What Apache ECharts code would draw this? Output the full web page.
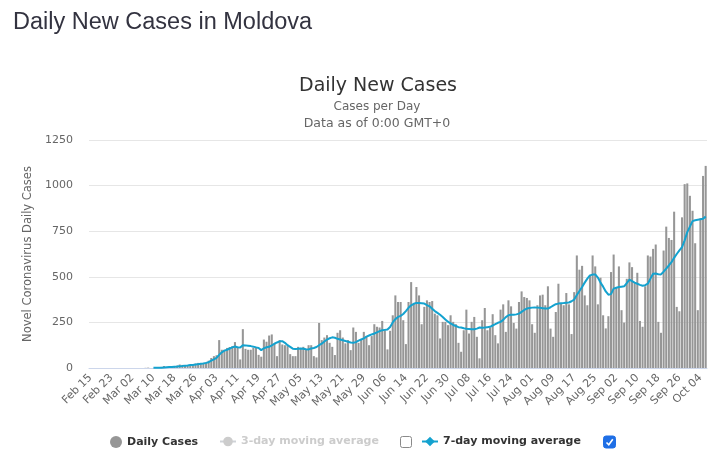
<!DOCTYPE html>
<html><head><meta charset="utf-8">
<script src="https://cdn.jsdelivr.net/npm/echarts@6/dist/echarts.min.js"></script>
<style>html,body{margin:0;padding:0;background:#fff}#c{width:715px;height:462px}</style>
</head><body><div id="c"></div>
<script>
// Dates: Feb 15, 2020 onward (one category per day)
const startYear = 2020, startMonth = 1, startDay = 15;
const dayCount = 235;
const monthNames = ['Jan','Feb','Mar','Apr','May','Jun','Jul','Aug','Sep','Oct','Nov','Dec'];

// Daily new cases
const dailyCases = [
  0,0,0,0,0,0,0,0,0,0, 0,0,0,0,0,0,0,0,0,0, 0,
  1,2,0,0,3,0,6,11,2,7,6,7,13,19,17,14,15,15,16,24,28,
  25,28,30,40,55,65,70,153,100,100,110,115,120,142,110,47,213,105,100,100,110,116,72,62,
  156,144,178,184,135,65,153,129,125,120,76,65,65,116,107,116,102,125,125,65,58,
  247,153,167,180,138,116,71,193,207,167,135,153,98,222,198,138,156,198,175,125,175,
  240,226,222,258,207,102,204,289,398,362,362,262,131,362,471,353,444,398,240,335,
  371,362,367,298,289,162,253,253,235,289,253,240,138,89,207,320,189,253,280,171,53,
  262,329,207,222,295,180,135,320,349,198,371,338,247,216,362,420,389,384,371,240,193,
  344,398,402,344,448,216,171,307,462,353,344,411,349,186,416,617,539,
  560,398,344,508,617,557,349,495,289,217,284,526,622,444,557,317,249,489,579,553,466,522,
  258,226,448,617,611,653,677,253,193,644,775,713,702,857,335,311,826,1008,1012,944,862,
  684,317,822,1053,1108
];

// 7-day moving average, first value is for day index 24 (Mar 10)
const avg7StartIndex = 24;
const avg7Values = [
  1,1,1,2,3,4,5,5,7,8,10,11,13,14,16,17,19,21,23,25,28,32,40,47,55,72,86,95,100,107,113,118,
  114,112,125,124,122,120,117,113,110,98,108,114,116,124,133,140,146,147,138,125,116,106,104,
  105,107,106,103,102,107,110,115,125,133,145,156,163,168,166,160,156,152,148,144,140,138,142,
  150,156,162,172,178,184,189,195,202,207,209,211,225,250,268,280,286,296,312,330,344,352,357,
  356,355,353,345,338,325,312,302,292,280,266,254,244,236,230,224,222,218,215,214,213,212,216,
  222,221,222,224,226,233,240,248,253,264,279,289,292,292,294,298,308,318,326,329,331,332,331,
  330,328,326,326,333,342,350,353,355,356,358,359,366,375,400,422,444,468,490,508,512,513,496,
  468,446,420,402,405,435,440,444,446,448,466,484,476,468,462,456,451,454,462,490,517,518,514,
  513,528,545,562,580,604,625,645,662,700,745,775,805,810,813,815,818,830
];

const yTickValues = [0, 250, 500, 750, 1000, 1250];

const categories = [];
for (let k = 0; k < dayCount; k++) {
  const d = new Date(Date.UTC(startYear, startMonth, startDay + k));
  const dd = d.getUTCDate();
  categories.push(monthNames[d.getUTCMonth()] + ' ' + (dd < 10 ? '0' + dd : '' + dd));
}
const avg7Data = categories.map((c, k) => (k < avg7StartIndex ? null : (avg7Values[k - avg7StartIndex] ?? null)));

const FONT = 'DejaVu Sans';
const chart = echarts.init(document.getElementById('c'), null, {renderer: 'canvas'});
chart.setOption({
  animation: false,
  backgroundColor: '#fff',
  title: [
    {text: 'Daily New Cases in Moldova', left: 8, top: 6,
     textStyle: {fontFamily: 'Liberation Sans', fontSize: 23.5, fontWeight: 'normal', color: '#333340'}},
    {text: 'Daily New Cases', left: 373, top: 72, textAlign: 'center',
     textStyle: {fontFamily: FONT, fontSize: 19, fontWeight: 'normal', color: '#333'}},
    {text: 'Cases per Day', left: 372, top: 96, textAlign: 'center',
     textStyle: {fontFamily: FONT, fontSize: 12, fontWeight: 'normal', color: '#666'}},
    {text: 'Data as of 0:00 GMT+0', left: 372, top: 112, textAlign: 'center',
     textStyle: {fontFamily: FONT, fontSize: 12.5, fontWeight: 'normal', color: '#666'}}
  ],
  legend: [
    {data: ['Daily Cases'], left: 105, top: 431, itemWidth: 12, itemHeight: 12, icon: 'circle',
     textStyle: {fontFamily: FONT, fontSize: 11, fontWeight: 'bold', color: '#333'}, inactiveColor: '#ccc'},
    {data: ['3-day moving average'], left: 214, top: 431, itemWidth: 16, itemHeight: 12,
     selected: {'3-day moving average': false},
     textStyle: {fontFamily: FONT, fontSize: 11, fontWeight: 'bold', color: '#333'}, inactiveColor: '#ccc'},
    {data: ['7-day moving average'], left: 416, top: 431, itemWidth: 16, itemHeight: 12,
     textStyle: {fontFamily: FONT, fontSize: 11, fontWeight: 'bold', color: '#333'}, inactiveColor: '#ccc'}
  ],
  grid: {left: 89, right: 8, top: 140, bottom: 94, containLabel: false},
  xAxis: {
    type: 'category', data: categories, boundaryGap: true,
    axisLine: {lineStyle: {color: '#ccd6eb', width: 1}},
    axisTick: {show: false},
    axisLabel: {interval: 7, rotate: 45, color: '#666', fontFamily: FONT, fontSize: 11, margin: 8}
  },
  yAxis: {
    type: 'value', min: yTickValues[0], max: yTickValues[yTickValues.length - 1], interval: 250,
    name: 'Novel Coronavirus Daily Cases', nameLocation: 'middle', nameGap: 42,
    nameTextStyle: {color: '#666', fontFamily: FONT, fontSize: 11.5},
    axisLine: {show: false}, axisTick: {show: false},
    axisLabel: {color: '#666', fontFamily: FONT, fontSize: 11, margin: 16, formatter: v => String(v)},
    splitLine: {lineStyle: {color: '#e6e6e6', width: 1}}
  },
  series: [
    {name: 'Daily Cases', type: 'bar', data: dailyCases, barCategoryGap: '22%',
     itemStyle: {color: '#969696'}},
    {name: '3-day moving average', type: 'line', data: [], symbol: 'circle', symbolSize: 6,
     itemStyle: {color: '#cccccc'}, lineStyle: {color: '#cccccc', width: 2}},
    {name: '7-day moving average', type: 'line', data: avg7Data, symbol: 'diamond', symbolSize: 7,
     showSymbol: false, connectNulls: false,
     itemStyle: {color: '#14a2cf'}, lineStyle: {color: '#14a2cf', width: 2}}
  ],
  graphic: [
    {type: 'rect', shape: {x: 400.5, y: 436.5, width: 11, height: 11, r: 2},
     style: {fill: '#fff', stroke: '#8a8a8a', lineWidth: 1}},
    {type: 'rect', shape: {x: 603.5, y: 436, width: 12, height: 12, r: 2.5},
     style: {fill: '#1f6fe6', stroke: '#1f6fe6', lineWidth: 1}},
    {type: 'polyline', shape: {points: [[606.5, 442.5], [608.8, 444.8], [612.8, 439.2]]},
     style: {stroke: '#fff', lineWidth: 1.6, fill: null}}
  ]
});
</script></body></html>
